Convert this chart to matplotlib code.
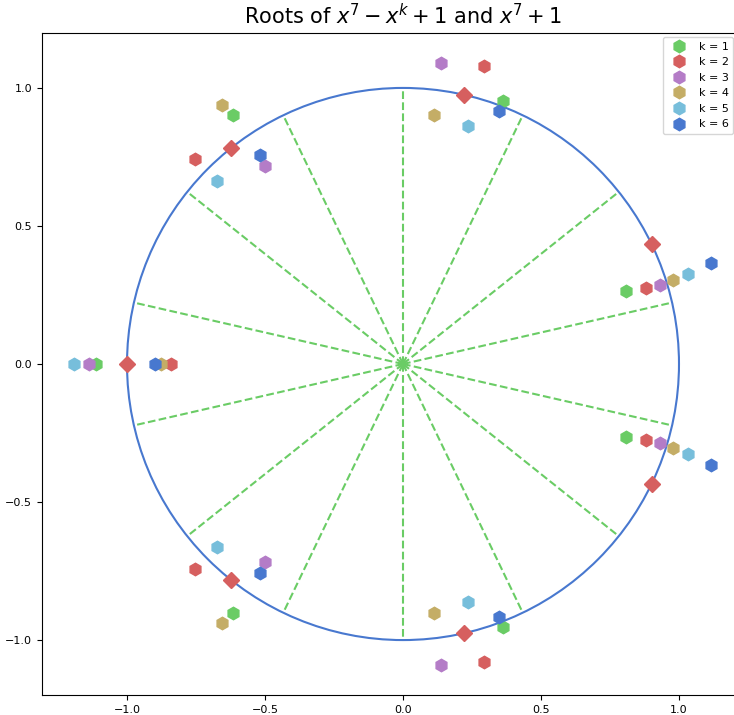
import numpy as np
import matplotlib
matplotlib.use('Agg')
import matplotlib.pyplot as plt
from matplotlib.patches import Circle

k_labels = ['k = 1', 'k = 2', 'k = 3', 'k = 4', 'k = 5', 'k = 6']
colors = ['#6ACC65', '#D65F5F', '#B47CC7', '#C4AD66', '#77BEDB', '#4878CF']

re_k1 = [0.362, -0.616, -1.112, 0.808]
im_k1 = [0.953, 0.902, 0.0, 0.264]
re_k2 = [0.293, -0.754, -0.841, 0.880]
im_k2 = [1.080, 0.743, 0.0, 0.275]
re_k3 = [0.138, -0.500, -1.138, 0.931]
im_k3 = [1.091, 0.717, 0.0, 0.287]
re_k4 = [0.112, -0.655, -0.877, 0.979]
im_k4 = [0.902, 0.940, 0.0, 0.303]
re_k5 = [0.237, -0.675, -1.192, 1.034]
im_k5 = [0.863, 0.662, 0.0, 0.325]
re_k6 = [0.349, -0.518, -0.899, 1.117]
im_k6 = [0.917, 0.756, 0.0, 0.365]

# roots of x^7 + 1
re_unit = [0.901, 0.2225, -0.623, -1.0, -0.623, 0.2225, 0.901]
im_unit = [0.434, 0.975, 0.782, 0.0, -0.782, -0.975, -0.434]

# dashed spokes (degrees)
spoke_deg = [90 + j * 180 / 7 for j in range(14)]

all_re = [re_k1, re_k2, re_k3, re_k4, re_k5, re_k6]
all_im = [im_k1, im_k2, im_k3, im_k4, im_k5, im_k6]

fig = plt.figure(figsize=(7.34, 7.15), dpi=100)
ax = fig.add_axes([42 / 734, 20 / 715, 722 / 734, 662 / 715])

ax.add_patch(Circle((0, 0), 1.0, fill=False, color='#4878CF', lw=1.5, zorder=1))
for d in spoke_deg:
    t = np.deg2rad(d)
    ax.plot([0, np.cos(t)], [0, np.sin(t)], '--', color='#6ACC65', lw=1.5, zorder=1)

for re, im, c, lab in zip(all_re, all_im, colors, k_labels):
    xs = list(re) + [r for r, i in zip(re, im) if i != 0]
    ys = list(im) + [-i for i in im if i != 0]
    ax.plot(xs, ys, linestyle='none', marker='h', markersize=9, color=c,
            label=lab, zorder=3)

ax.plot(re_unit, im_unit, linestyle='none', marker='D', markersize=8,
        color='#D65F5F', zorder=4)

ax.set_xlim(-1.308, 1.308)
ax.set_ylim(-1.199, 1.199)
ax.set_xticks([-1.0, -0.5, 0.0, 0.5, 1.0])
ax.set_yticks([-1.0, -0.5, 0.0, 0.5, 1.0])
ax.tick_params(labelsize=8)
ax.set_title(r'Roots of $x^7 - x^k + 1$ and $x^7 + 1$', fontsize=15)
ax.legend(loc='upper right', fontsize=8, numpoints=1,
          bbox_to_anchor=(0.999, 0.948), bbox_transform=fig.transFigure,
          borderaxespad=0.0)

fig.savefig('out.png', dpi=100)
